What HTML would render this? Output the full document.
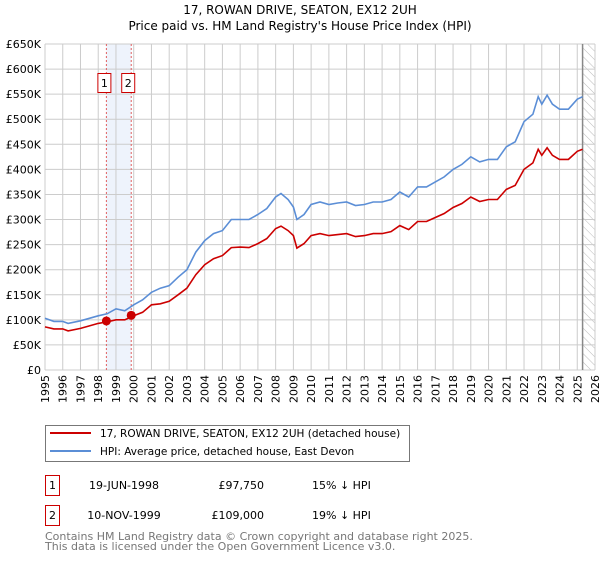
<!DOCTYPE html>
<html><head><meta charset="utf-8"><style>
body{margin:0;background:#fff;font-family:"DejaVu Sans","Liberation Sans",sans-serif}
svg text{font-family:"DejaVu Sans","Liberation Sans",sans-serif}
</style></head><body>
<svg id="c" width="600" height="560" xmlns="http://www.w3.org/2000/svg">
<defs><pattern id="hatch" width="6" height="6" patternUnits="userSpaceOnUse" patternTransform="rotate(-45)"><line x1="0" y1="0" x2="0" y2="6" stroke="#bbb" stroke-width="1"/></pattern></defs>
<text x="300" y="14" text-anchor="middle" font-size="12">17, ROWAN DRIVE, SEATON, EX12 2UH</text>
<text x="300" y="30" text-anchor="middle" font-size="12">Price paid vs. HM Land Registry's House Price Index (HPI)</text>
<g id="plot"></g>
<g>
<rect x="45.5" y="425.5" width="364" height="36" fill="#fff" stroke="#777"/>
<line x1="50" y1="433" x2="91" y2="433" stroke="#cc0000" stroke-width="2"/>
<text x="100" y="437" font-size="10.5">17, ROWAN DRIVE, SEATON, EX12 2UH (detached house)</text>
<line x1="50" y1="451" x2="91" y2="451" stroke="#5b8ed6" stroke-width="2"/>
<text x="100" y="455" font-size="10.5">HPI: Average price, detached house, East Devon</text>
</g>
<g font-size="11">
<rect x="45.5" y="475.5" width="14" height="20" fill="#fff" stroke="#cc0000"/>
<text x="52.5" y="489" text-anchor="middle">1</text>
<text x="124" y="489" text-anchor="middle">19-JUN-1998</text>
<text x="264" y="489" text-anchor="end">£97,750</text>
<text x="312" y="489">15% ↓ HPI</text>
<rect x="45.5" y="505.5" width="14" height="20" fill="#fff" stroke="#cc0000"/>
<text x="52.5" y="519" text-anchor="middle">2</text>
<text x="124" y="519" text-anchor="middle">10-NOV-1999</text>
<text x="264" y="519" text-anchor="end">£109,000</text>
<text x="312" y="519">19% ↓ HPI</text>
</g>
<text x="45" y="540" font-size="11" fill="#777">Contains HM Land Registry data © Crown copyright and database right 2025.</text>
<text x="45" y="550" font-size="11" fill="#777">This data is licensed under the Open Government Licence v3.0.</text>
</svg>
<script>
const hpiYears=[1995,1995.5,1996,1996.3,1997,1997.5,1998,1998.5,1999,1999.5,2000,2000.5,2001,2001.5,2002,2002.5,2003,2003.5,2004,2004.5,2005,2005.5,2006,2006.5,2007,2007.5,2008,2008.3,2008.7,2009,2009.2,2009.6,2010,2010.5,2011,2011.5,2012,2012.5,2013,2013.5,2014,2014.5,2015,2015.5,2016,2016.5,2017,2017.5,2018,2018.5,2019,2019.5,2020,2020.5,2021,2021.5,2022,2022.5,2022.8,2023,2023.3,2023.6,2024,2024.5,2025,2025.3];
const hpiValues=[103,97,97,93,98,103,108,112,122,118,130,140,155,163,168,185,200,235,258,272,278,300,300,300,310,322,345,352,340,325,300,310,330,335,330,333,335,328,330,335,335,340,355,345,365,365,375,385,400,410,425,415,420,420,445,455,495,510,545,530,548,530,520,520,540,545];
const priceValues=[86,82,82,78,83,88,93,96,100,100,108,115,130,132,137,150,163,190,210,222,228,244,245,244,252,262,282,287,278,268,243,252,268,272,268,270,272,266,268,272,272,276,288,280,296,296,304,312,324,332,345,336,340,340,360,368,400,413,440,428,443,428,420,420,436,440];
const sales=[[1998.46,97.75],[1999.86,109]];
const yTicks=[0,50,100,150,200,250,300,350,400,450,500,550,600,650];
const X0=45,X1=595,Y0=370,Y1=44;
const xs=y=>X0+(y-1995)/(2026-1995)*(X1-X0);
const ys=v=>Y0-v/650*(Y0-Y1);
const NS="http://www.w3.org/2000/svg";
const g=document.getElementById('plot');
function mk(t,a,p){const e=document.createElementNS(NS,t);for(const k in a)e.setAttribute(k,a[k]);(p||g).appendChild(e);return e;}
let e=mk('rect',{x:xs(1998.46),y:Y1,width:xs(1999.86)-xs(1998.46),height:Y0-Y1,fill:'#eef3fc'});

e=mk('rect',{x:xs(2025.3),y:Y1,width:X1-xs(2025.3),height:Y0-Y1,fill:'url(#hatch)'});

for(let yr=1995;yr<=2026;yr++){
 e=mk('line',{x1:xs(yr),x2:xs(yr),y1:Y1,y2:Y0,stroke:'#ccc'});
 
 const t=mk('text',{x:0,y:0,'font-size':11,'text-anchor':'end',transform:`translate(${xs(yr)+4},375) rotate(-90)`});
 t.textContent=yr;
 
}
yTicks.forEach(v=>{
 e=mk('line',{x1:X0,x2:X1,y1:ys(v),y2:ys(v),stroke:'#ccc'});
 
 const t=mk('text',{x:41,y:ys(v)+4,'font-size':11,'text-anchor':'end'});
 t.textContent=v===0?'£0':'£'+v+'K';
 
});
e=mk('line',{x1:xs(2025.3),x2:xs(2025.3),y1:Y1,y2:Y0,stroke:'#888','stroke-width':1.5});

const boxOffsets=[-9,-10];
sales.forEach((s,i)=>{
 e=mk('line',{x1:xs(s[0]),x2:xs(s[0]),y1:Y1,y2:Y0,stroke:'#e06060','stroke-dasharray':'2,2'});
 
 const bx=xs(s[0])+boxOffsets[i];
 e=mk('rect',{x:bx+0.5,y:73.5,width:13,height:19,fill:'#fff',stroke:'#cc0000'});
 
 const t=mk('text',{x:bx+7,y:87,'font-size':11,'text-anchor':'middle'});
 t.textContent=i+1;
 
});
function path(vals,col,name){
 const d=hpiYears.map((y,i)=>(i?'L':'M')+xs(y).toFixed(1)+','+ys(vals[i]).toFixed(1)).join('');
 const p=mk('path',{d:d,fill:'none',stroke:col,'stroke-width':1.6});
 
}
path(hpiValues,'#5b8ed6','hpi-line');
path(priceValues,'#cc0000','price-line');
sales.forEach(s=>{
 const c=mk('circle',{cx:xs(s[0]),cy:ys(s[1]),r:4.5,fill:'#cc0000'});
 
});
</script>
</body></html>
